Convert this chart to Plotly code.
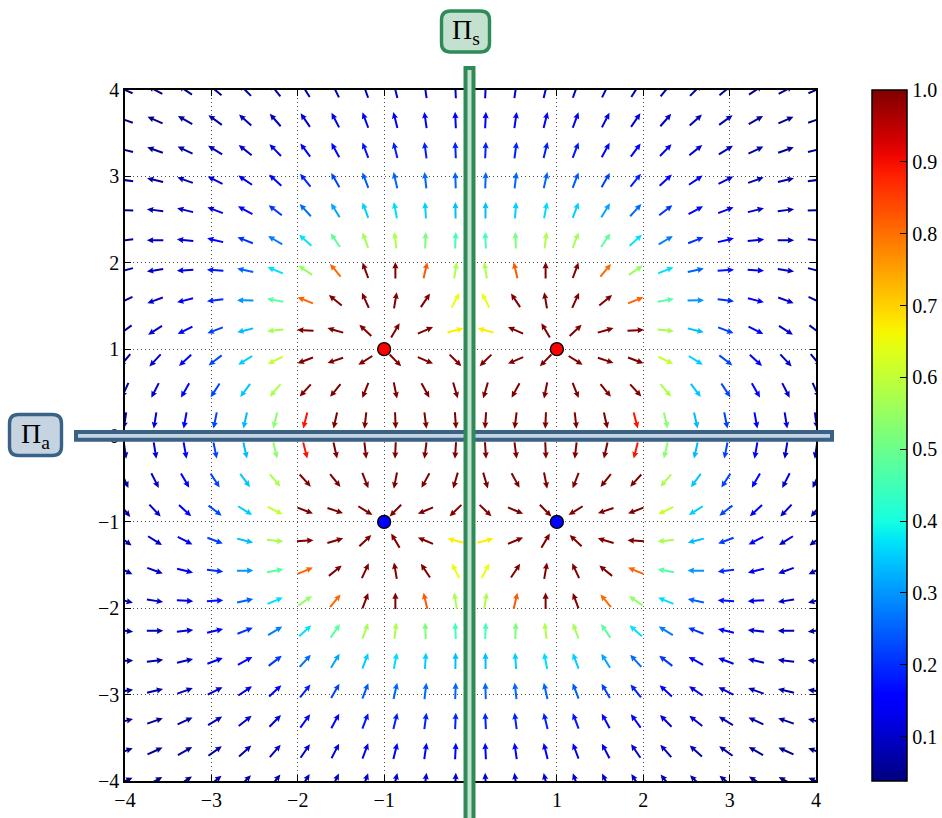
import numpy as np
import plotly.graph_objects as go

# ---- data ----
charge_x = [-1.0, 1.0, -1.0, 1.0]
charge_y = [1.0, 1.0, -1.0, -1.0]
charge_q = [1.0, 1.0, -1.0, -1.0]
charge_colors = ["#ff0000", "#ff0000", "#0000ff", "#0000ff"]
n_grid = 24
axis_min, axis_max = -4.0, 4.0
tick_vals = [-4, -3, -2, -1, 0, 1, 2, 3, 4]
tick_text = ["\u22124", "\u22123", "\u22122", "\u22121", "0", "1", "2", "3", "4"]
cbar_vals = [0.1, 0.2, 0.3, 0.4, 0.5, 0.6, 0.7, 0.8, 0.9, 1.0]
cbar_text = ["0.1", "0.2", "0.3", "0.4", "0.5", "0.6", "0.7", "0.8", "0.9", "1.0"]
color_clip = 1.0

# ---- layout geometry (pixels) ----
W, H = 942, 818
PL, PR, PT, PB = 125, 816, 90, 781
PW = PR - PL
PH = PB - PT
ppu = PW / (axis_max - axis_min)

def px_x(px):
    return (px - PL) / PW

def px_y(py):
    return (PB - py) / PH

# ---- field ----
gx = np.linspace(axis_min, axis_max, n_grid)
gy = np.linspace(axis_min, axis_max, n_grid)
X, Y = np.meshgrid(gx, gy)
Ex = np.zeros_like(X)
Ey = np.zeros_like(Y)
for cx, cy, q in zip(charge_x, charge_y, charge_q):
    dx = X - cx
    dy = Y - cy
    r3 = (dx**2 + dy**2) ** 1.5
    Ex += q * dx / r3
    Ey += q * dy / r3
mag = np.hypot(Ex, Ey)
cval = np.minimum(mag, color_clip)
cmin, cmax = float(cval.min()), color_clip


def jet(v):
    v = float(np.clip(v, 0, 1))
    r = np.interp(v, [0, 0.35, 0.66, 0.89, 1], [0, 0, 1, 1, 0.5])
    g = np.interp(v, [0, 0.125, 0.375, 0.64, 0.91, 1], [0, 0, 1, 1, 0, 0])
    b = np.interp(v, [0, 0.11, 0.34, 0.65, 1], [0.5, 1, 1, 0, 0])
    return "rgb(%d,%d,%d)" % (round(r * 255), round(g * 255), round(b * 255))

jet_scale = [[s, jet(s)] for s in np.linspace(0, 1, 41)]

# arrow shape (pixels)
L_px = 16.5
shaft_hw = 1.0
head_hw = 3.1
head_len = 6.6
head_ax = 5.9

shapes = []
for i in range(n_grid):
    for j in range(n_grid):
        ex, ey = Ex[i, j], Ey[i, j]
        m = np.hypot(ex, ey)
        ux, uy = ex / m, ey / m
        nx, ny = -uy, ux
        pts_local = [
            (-L_px / 2, shaft_hw),
            (L_px / 2 - head_ax, shaft_hw),
            (L_px / 2 - head_len, head_hw),
            (L_px / 2, 0.0),
            (L_px / 2 - head_len, -head_hw),
            (L_px / 2 - head_ax, -shaft_hw),
            (-L_px / 2, -shaft_hw),
        ]
        x0, y0 = X[i, j], Y[i, j]
        pts = []
        for a, b in pts_local:
            px = x0 + (a * ux + b * nx) / ppu
            py = y0 + (a * uy + b * ny) / ppu
            pts.append("%.5f,%.5f" % (px, py))
        path = "M " + " L ".join(pts) + " Z"
        col = jet((cval[i, j] - cmin) / (cmax - cmin))
        shapes.append(dict(type="path", path=path, xref="x", yref="y",
                           fillcolor=col, line=dict(width=0), layer="between"))


def rounded_rect(cx, cy, w, h, r):
    x0, x1 = cx - w / 2, cx + w / 2
    y0, y1 = cy - h / 2, cy + h / 2
    P = lambda a, b: "%.5f,%.5f" % (px_x(a), px_y(b))
    return ("M " + P(x0 + r, y0) + " L " + P(x1 - r, y0) + " Q " + P(x1, y0) + " " + P(x1, y0 + r) +
            " L " + P(x1, y1 - r) + " Q " + P(x1, y1) + " " + P(x1 - r, y1) +
            " L " + P(x0 + r, y1) + " Q " + P(x0, y1) + " " + P(x0, y1 - r) +
            " L " + P(x0, y0 + r) + " Q " + P(x0, y0) + " " + P(x0 + r, y0) + " Z")

green = "rgb(46,139,87)"
green_fill = "rgb(196,224,206)"
blue = "rgb(58,98,134)"
blue_fill = "rgb(198,212,226)"

# horizontal plane (Pi_a), then vertical plane (Pi_s) on top
shapes.append(dict(type="rect", xref="paper", yref="paper",
                   x0=px_x(76), x1=px_x(832), y0=px_y(439.7), y1=px_y(432),
                   line=dict(color=blue, width=4), fillcolor=blue_fill, layer="above"))
shapes.append(dict(type="rect", xref="paper", yref="paper",
                   x0=px_x(465.5), x1=px_x(473.5), y0=px_y(840), y1=px_y(68),
                   line=dict(color=green, width=4), fillcolor=green_fill, layer="above"))
# label boxes
shapes.append(dict(type="path", xref="paper", yref="paper",
                   path=rounded_rect(465.5, 31.5, 48, 41, 9),
                   line=dict(color=green, width=3.4), fillcolor=green_fill, layer="above"))
shapes.append(dict(type="path", xref="paper", yref="paper",
                   path=rounded_rect(35.5, 435.0, 52, 41, 9),
                   line=dict(color=blue, width=3.4), fillcolor=blue_fill, layer="above"))

serif = "Liberation Serif, DejaVu Serif, serif"

fig = go.Figure()
fig.add_trace(go.Scatter(
    x=charge_x, y=charge_y, mode="markers",
    marker=dict(size=13, color=charge_colors, line=dict(color="black", width=1.3)),
    hoverinfo="skip", showlegend=False, cliponaxis=False))
fig.add_trace(go.Scatter(
    x=[None], y=[None], mode="markers", showlegend=False, hoverinfo="skip",
    marker=dict(color=[cmin], cmin=cmin, cmax=cmax, colorscale=jet_scale, showscale=True,
                colorbar=dict(x=px_x(872), xanchor="left", xpad=0, ypad=0,
                              y=0.5, yanchor="middle", len=1, lenmode="fraction",
                              thickness=35, outlinewidth=1.5, outlinecolor="black",
                              ticks="inside", ticklen=7, tickwidth=1, tickcolor="black",
                              tickvals=cbar_vals, ticktext=cbar_text,
                              tickfont=dict(family=serif, size=20, color="black")))))

axis_common = dict(range=[axis_min, axis_max], tickvals=tick_vals, ticktext=tick_text,
                   showline=True, linecolor="black", linewidth=1.5, mirror="ticks",
                   ticks="inside", ticklen=6, tickwidth=1, tickcolor="black",
                   showgrid=True, gridcolor="rgba(0,0,0,0.7)", griddash="1px,3px", gridwidth=1,
                   zeroline=False, tickfont=dict(family=serif, size=20, color="black"))

fig.update_layout(
    width=W, height=H,
    margin=dict(l=PL, r=W - PR, t=PT, b=H - PB, autoexpand=False),
    paper_bgcolor="white", plot_bgcolor="white",
    xaxis=dict(**axis_common),
    yaxis=dict(**axis_common),
    shapes=shapes,
    annotations=[
        dict(x=px_x(465.5), y=px_y(31.5), xref="paper", yref="paper", showarrow=False,
             text="\u03a0<sub>s</sub>", font=dict(family=serif, size=28, color="black"),
             xanchor="center", yanchor="middle"),
        dict(x=px_x(35.5), y=px_y(435.0), xref="paper", yref="paper", showarrow=False,
             text="\u03a0<sub>a</sub>", font=dict(family=serif, size=28, color="black"),
             xanchor="center", yanchor="middle"),
    ],
)

page_js = ("document.body.style.margin='0';document.body.style.padding='0';"
           "document.body.style.overflow='hidden';"
           "document.documentElement.style.overflow='hidden';")
fig.write_html("out.html", post_script=page_js, config={"displayModeBar": False})
